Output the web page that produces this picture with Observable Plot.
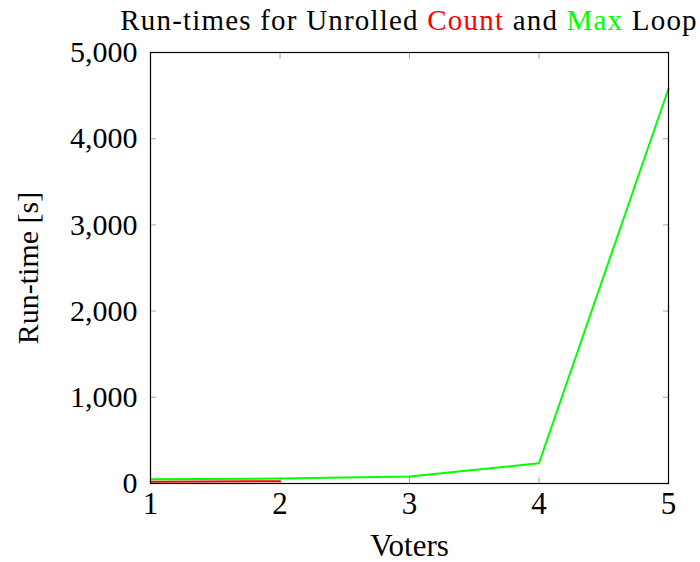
<!DOCTYPE html>
<html>
<head>
<meta charset="utf-8">
<script src="https://cdn.jsdelivr.net/npm/d3@7"></script>
<script src="https://cdn.jsdelivr.net/npm/@observablehq/plot@0.6"></script>
<style>
  body { margin: 0; background: #fff; }
  #title { width: 700px; height: 36px; box-sizing: border-box; padding: 5px 0 0 118px; text-align: center; white-space: nowrap;
           font-family: "Liberation Serif", serif; font-size: 29px; letter-spacing: 1.2px; line-height: 30px; color: #000; }
  #chart svg { display: block; }
</style>
</head>
<body>
<div id="title">Run-times for Unrolled <span style="color:#ff0000">Count</span> and <span style="color:#00ff00">Max</span> Loop</div>
<div id="chart"></div>
<script>
const voters = [1, 2, 3, 4, 5];
const maxRuntime = [50, 58, 80, 235, 4580];
const countVoters = [1, 2];
const countRuntime = [20, 26];
const xTicks = [1, 2, 3, 4, 5];
const yTicks = [0, 1000, 2000, 3000, 4000, 5000];

const maxData = voters.map((v, i) => ({voters: v, time: maxRuntime[i]}));
const countData = countVoters.map((v, i) => ({voters: v, time: countRuntime[i]}));

const font = "Liberation Serif";
const blank = () => "";
const plot = Plot.plot({
  width: 700,
  height: 526,
  marginTop: 16,
  marginBottom: 79,
  marginLeft: 150,
  marginRight: 32,
  style: {fontFamily: font, fontSize: "30px", color: "#000", background: "#fff"},
  x: {domain: [1, 5]},
  y: {domain: [0, 5000]},
  marks: [
    Plot.axisX(xTicks, {anchor: "bottom", tickSize: -6, tickPadding: 14, stroke: "#aaa", label: "Voters", labelAnchor: "center", labelArrow: "none", labelOffset: 72, fontSize: 31, tickFormat: d3.format("d")}),
    Plot.axisX(xTicks.slice(1, 4), {anchor: "top", tickSize: -6, stroke: "#aaa", tickFormat: blank, label: null}),
    Plot.axisY(yTicks, {anchor: "left", tickSize: -6, tickPadding: 19, stroke: "#aaa", label: "Run-time [s]", labelAnchor: "center", labelArrow: "none", labelOffset: 134, fontSize: 30, tickFormat: d3.format(",")}),
    Plot.axisY(yTicks.slice(1, 5), {anchor: "right", tickSize: -6, stroke: "#aaa", tickFormat: blank, label: null}),
    Plot.line(countData, {x: "voters", y: "time", stroke: "#ff0000", strokeWidth: 2}),
    Plot.line(maxData, {x: "voters", y: "time", stroke: "#00ff00", strokeWidth: 2}),
    Plot.frame({stroke: "#000", strokeWidth: 1.2})
  ]
});
document.getElementById("chart").appendChild(plot);
</script>
</body>
</html>
